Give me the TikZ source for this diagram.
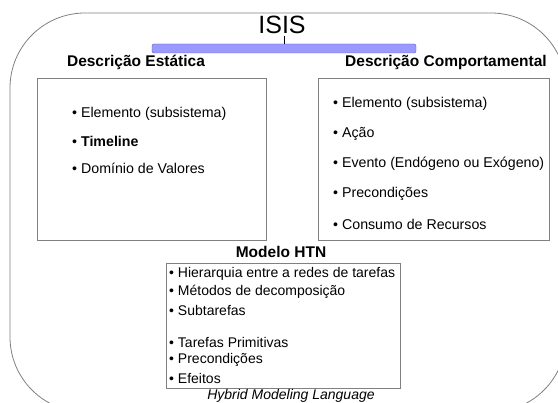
\documentclass[tikz,border=0pt]{standalone}
\usepackage{fontspec}
\setmainfont{Liberation Sans}
\usetikzlibrary{positioning}
\definecolor{framegray}{RGB}{128,128,128}
\definecolor{bracefill}{RGB}{153,153,255}
\definecolor{braceline}{RGB}{90,90,190}
\tikzset{
    every node/.style={font=\fontsize{14}{16}\selectfont, inner sep=0pt},
    head node/.style={font=\fontsize{15.5}{17}\selectfont\bfseries},
    panel/.style={draw=framegray, thick, fill=white},
    item/.style={anchor=west, font=\fontsize{14.2}{16}\selectfont},
    htn item/.style={anchor=west, font=\fontsize{14}{16}\selectfont}
}
\begin{document}
\begin{tikzpicture}[x=1pt, y=-1pt]

    \useasboundingbox (0,0) rectangle (558,403);
    \draw[framegray, thick, rounded corners=75] (10,13) rectangle (566,412);

    \node[font=\fontsize{25}{27}\selectfont] (isis) at (282,25) {ISIS};
    \draw[braceline, fill=bracefill, rounded corners=2] (152,53) -- (152,44) -- (416,44) -- (416,53) -- cycle;
    \coordinate (peak) at (284,44);
    \draw[black, thin] (peak) -- ++(0,-8);

    \node[head node] (estatica) at (136,62) {Descrição Estática};
    \node[head node] (comport) at (446,62) {Descrição Comportamental};

    \node[panel, minimum width=229, minimum height=162] (boxE) at (151.5,159) {};
    \node[panel, minimum width=231, minimum height=162] (boxC) at (433.5,159) {};

    \foreach \txt [count=\i] in {Elemento (subsistema), \textbf{Timeline}, Domínio de Valores}
        \node[item] (e\i) at (72,86+27.5*\i) {\textbullet\ \txt};

    \foreach \txt [count=\i] in {Elemento (subsistema), Ação, Evento (Endógeno ou Exógeno), Precondições, Consumo de Recursos}
        \node[item] (c\i) at (333,74+30*\i) {\textbullet\ \txt};

    \node[head node] (htn) at (281,252) {Modelo HTN};
    \node[panel, minimum width=234, minimum height=125] (boxH) at (283,325.5) {};

    \foreach \txt/\y in {Hierarquia entre a redes de tarefas/274, Métodos de decomposição/292, Subtarefas/310,
        Tarefas Primitivas/342, Precondições/360, Efeitos/378}
        \node[htn item] (h\y) at (169,\y) {\textbullet\ \txt};

    \node[font=\fontsize{14}{16}\selectfont\itshape] (hml) at (291,396) {Hybrid Modeling Language};

\end{tikzpicture}
\end{document}
